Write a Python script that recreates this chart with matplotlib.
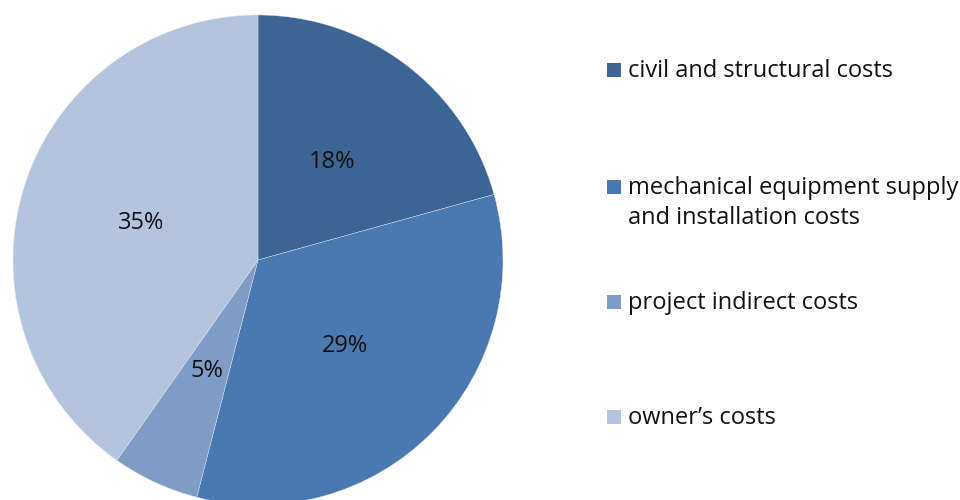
import matplotlib
matplotlib.use("Agg")
import matplotlib.pyplot as plt
from matplotlib.patches import Rectangle

categories = ["civil and structural costs",
              "mechanical equipment supply\nand installation costs",
              "project indirect costs",
              "owner\u2019s costs"]
values = [18, 29, 5, 35]
colors = ["#3C6494", "#4A78B0", "#7F9CC7", "#B4C3DE"]

plt.rcParams['font.family'] = ['Open Sans', 'DejaVu Sans']

fig = plt.figure(figsize=(9.6, 5.0), dpi=100)
W, H = 960, 500
cx, cy, R = 258, 260, 245
ax = fig.add_axes([(cx - R) / W, (H - cy - R) / H, 2 * R / W, 2 * R / H])
wedges, texts = ax.pie(values, colors=colors, startangle=90, counterclock=False,
                       labels=[f"{v}%" for v in values], labeldistance=0.5,
                       wedgeprops=dict(linewidth=0.3, edgecolor="#dde4ee"),
                       textprops=dict(fontsize=17, color="#111111", ha="center", va="center"))
ax.set_xlim(-1, 1)
ax.set_ylim(-1, 1)
ax.set_aspect("equal")
ax.axis("off")

# legend (manual, to match spacing)
leg_y = [70, 187, 302, 417]
line_px = 30
for lab, col, y in zip(categories, colors, leg_y):
    fig.patches.append(Rectangle((607 / W, (H - y - 7) / H), 14 / W, 14 / H,
                                 transform=fig.transFigure, facecolor=col, edgecolor="none"))
    n_extra = lab.count("\n")
    fig.text(628 / W, (H - y - 7 - line_px * n_extra) / H, lab, fontsize=17, color="#111111",
             ha="left", va="baseline", linespacing=1.33)

fig.savefig("out.png", dpi=100)
